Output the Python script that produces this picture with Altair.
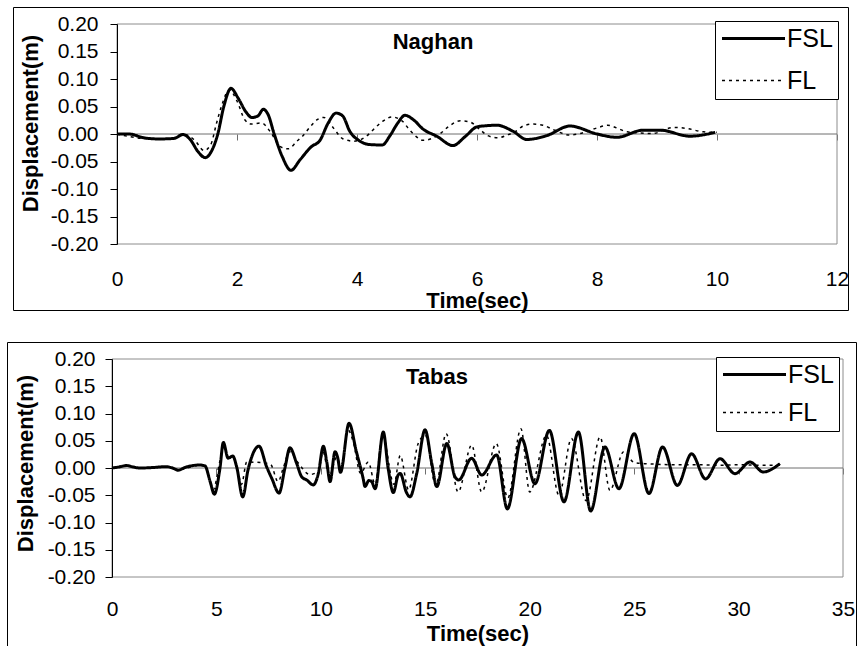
import altair as alt
import pandas as pd

FONT = "Liberation Sans"
W, H = 857, 646

series_names = ["FSL", "FL"]
y_ticks = [-0.20, -0.15, -0.10, -0.05, 0.00, 0.05, 0.10, 0.15, 0.20]
x_ticks_naghan = [0, 2, 4, 6, 8, 10, 12]
x_ticks_tabas = [0, 5, 10, 15, 20, 25, 30, 35]

# ---------------- Naghan ----------------
naghan_fsl_t = [0, 0.2, 0.45, 0.7, 0.95, 1.1, 1.22, 1.35, 1.47, 1.58, 1.68, 1.78, 1.9, 2.02, 2.15,
                2.25, 2.35, 2.44, 2.52, 2.62, 2.75, 2.9, 3.05, 3.24, 3.38, 3.52, 3.65, 3.76, 3.88, 4.05,
                4.2, 4.42, 4.55, 4.68, 4.8, 4.95, 5.1, 5.33, 5.6, 5.8, 6.0, 6.15, 6.33, 6.6, 6.83,
                7.16, 7.55, 8.0, 8.33, 8.77, 9.05, 9.55, 9.97]
naghan_fsl_d = [0, 0, -0.007, -0.009, -0.008, -0.001, -0.01, -0.032, -0.043, -0.03, 0, 0.05, 0.083, 0.065, 0.04,
                0.03, 0.033, 0.045, 0.035, 0, -0.04, -0.066, -0.047, -0.023, -0.012, 0.02, 0.038, 0.033, 0.005, -0.013,
                -0.019, -0.02, -0.003, 0.02, 0.034, 0.025, 0.009, -0.004, -0.021, -0.005, 0.013, 0.015, 0.016, 0.005, -0.01,
                -0.003, 0.0145, 0, -0.006, 0.007, 0.007, -0.004, 0.003]
naghan_fl_t = [0, 0.45, 0.9, 1.1, 1.3, 1.45, 1.56, 1.66, 1.74, 1.87, 2.0, 2.13, 2.24, 2.41, 2.55,
               2.72, 2.85, 3.0, 3.1, 3.22, 3.35, 3.45, 3.6, 3.77, 3.95, 4.18, 4.3, 4.44, 4.58, 4.75,
               4.85, 4.97, 5.1, 5.25, 5.38, 5.52, 5.72, 5.88, 6.05, 6.18, 6.35, 6.5, 6.65, 6.77, 6.93,
               7.1, 7.27, 7.55, 7.72, 8.0, 8.18, 8.33, 8.5, 8.93, 9.27, 9.5, 9.77, 10.0]
naghan_fl_d = [0, -0.008, -0.009, 0, -0.012, -0.03, -0.02, 0.02, 0.05, 0.08, 0.06, 0.026, 0.018, 0.02, 0.005,
               -0.023, -0.027, -0.013, -0.003, 0.013, 0.027, 0.03, 0.012, -0.009, -0.013, -0.002, 0.011, 0.024, 0.031, 0.024,
               0.011, -0.003, -0.0115, -0.008, 0, 0.013, 0.024, 0.022, 0.008, -0.003, -0.007, -0.002, 0.005, 0.0145, 0.018,
               0.016, 0.008, -0.002, 0.001, 0.011, 0.016, 0.011, 0.004, 0.001, 0.012, 0.01, 0.004, 0.003]

# ---------------- Tabas ----------------
tabas_fsl_t = [0, 0.35, 0.7, 1.0, 1.34, 2.0, 2.6, 2.9, 3.17, 3.5, 4.2, 4.45, 4.7, 4.9, 5.17,
               5.33, 5.56, 5.78, 5.97, 6.26, 6.51, 7.04, 7.4, 7.65, 8.0, 8.28, 8.52, 8.84, 9.08, 9.32,
               9.64, 9.88, 10.12, 10.28, 10.44, 10.68, 10.8, 10.94, 11.35, 11.7, 12.03, 12.11, 12.3, 12.43, 12.6,
               12.99, 13.22, 13.47, 13.7, 13.8, 14.1, 14.27, 14.59, 14.99, 15.31, 15.55, 16.03, 16.42, 16.6, 17.22,
               17.7, 18.42, 18.93, 19.61, 20.25, 20.94, 21.64, 22.33, 22.92, 23.6, 24.27, 25.0, 25.71, 26.36, 27.07,
               27.75, 28.42, 29.11, 29.83, 30.55, 31.18, 31.98]
tabas_fsl_d = [0, 0.002, 0.0045, 0.002, 0, 0.001, 0.0025, 0, -0.004, 0.001, 0.0055, 0.004, -0.025, -0.048, 0,
               0.047, 0.018, 0.022, 0.002, -0.053, -0.004, 0.04, 0.0025, -0.019, -0.046, 0, 0.037, 0.0086, -0.016, -0.022,
               -0.031, -0.01, 0.04, 0.012, -0.025, 0.03, 0.02, -0.008, 0.082, 0.03, -0.02, -0.034, -0.023, -0.025, -0.038,
               0.066, 0, -0.045, -0.013, -0.01, -0.045, -0.053, -0.01, 0.07, 0.0085, -0.034, 0.045, -0.016, -0.022, 0.018,
               -0.013, 0.024, -0.075, 0.054, -0.029, 0.069, -0.062, 0.066, -0.079, 0.0385, -0.038, 0.063, -0.047, 0.0385, -0.032,
               0.026, -0.02, 0.017, -0.0104, 0.011, -0.0073, 0.008]
tabas_fl_t = [0, 0.7, 1.34, 2.6, 3.17, 4.2, 4.45, 4.85, 5.15, 5.35, 5.6, 5.8, 6.0, 6.2, 6.45,
              7.1, 7.6, 7.95, 8.2, 8.5, 8.9, 9.48, 9.9, 10.1, 10.4, 10.76, 11.0, 11.3, 11.55, 11.9,
              12.27, 12.6, 12.95, 13.5, 13.8, 14.2, 14.66, 15.0, 15.5, 16.0, 16.57, 17.22, 17.7, 18.4, 18.95,
              19.58, 20.0, 20.8, 21.4, 22.0, 22.7, 23.37, 23.84, 24.5, 25.0, 25.5, 26.0, 27.0, 28.0, 29.0,
              30.0, 31.0, 32.0]
tabas_fl_d = [0, 0.004, 0, 0.0025, -0.003, 0.005, 0.003, -0.04, 0.01, 0.04, 0.018, 0.02, 0, -0.03, 0.011,
              0.01, 0.006, -0.025, 0, 0.03, 0.01, -0.012, -0.005, 0.03, -0.015, 0.02, 0, 0.07, 0.048, -0.01,
              0.011, -0.03, 0.06, -0.03, 0.023, -0.04, 0.045, 0.06, -0.032, 0.063, -0.044, 0.042, -0.044, 0.045, -0.055,
              0.072, -0.044, 0.06, -0.05, 0.054, -0.06, 0.057, -0.041, 0.03, 0.01, 0.008, 0.007, 0.006, 0.006, 0.005,
              0.006, 0.005, 0.005]

# tick labels with a plain hyphen-minus, as in the original
Y_LABEL_EXPR = "replace(format(datum.value, '.2f'), '\u2212', '-')"


def legend_for(legend_xy, row_pad):
    return alt.Legend(
        orient="none", legendX=legend_xy[0], legendY=legend_xy[1], title=None,
        strokeColor="black", fillColor="white", padding=5, labelFontSize=25,
        labelFont=FONT, labelColor="black", symbolType="M-1,0H5", symbolSize=441,
        symbolStrokeColor="black", labelOffset=42, rowPadding=row_pad, cornerRadius=0)


def panel(name, fsl_t, fsl_d, fl_t, fl_d, xmax, xticks, plot, frame, title_xy,
          legend_xy, row_pad, ytitle_xy, ylab_pad, xlab_pad):
    L, T, R, B = plot
    zero_px = (T + B) / 2.0
    xs = alt.Scale(domain=[0, xmax], range=[L, R], nice=False, zero=False)
    ys = alt.Scale(domain=[-0.2, 0.2], range=[B, T], nice=False, zero=False)
    df = pd.DataFrame({
        "t": fsl_t + fl_t,
        "d": fsl_d + fl_d,
        "series": ["FSL"] * len(fsl_t) + ["FL"] * len(fl_t),
    })
    one = pd.DataFrame({"a": [0]})

    outer = alt.Chart(one).mark_rect(fillOpacity=0, stroke="black", strokeWidth=1).encode(
        x=alt.value(frame[0]), x2=alt.value(frame[2]),
        y=alt.value(frame[1]), y2=alt.value(frame[3]))
    border = alt.Chart(one).mark_rect(fillOpacity=0, stroke="#8c8c8c", strokeWidth=1).encode(
        x=alt.value(L), x2=alt.value(R), y=alt.value(T), y2=alt.value(B))
    zero = alt.Chart(pd.DataFrame({"t0": [0], "t1": [xmax], "z": [0.0]})).mark_rule(
        color="#6e6e6e", strokeWidth=1).encode(
        x=alt.X("t0:Q", scale=xs, axis=alt.Axis(
            orient="bottom", offset=zero_px - H, labels=False, title=None, domain=False,
            ticks=True, tickSize=6, tickColor="#6e6e6e", values=xticks, grid=False)),
        x2="t1:Q",
        y=alt.Y("z:Q", scale=ys, axis=None))
    title = alt.Chart(one).mark_text(
        text=name, font=FONT, fontSize=22, fontWeight="bold", color="black",
        align="center", baseline="middle").encode(
        x=alt.value(title_xy[0]), y=alt.value(title_xy[1]))
    lines = alt.Chart(df).mark_line(color="black", interpolate="monotone").encode(
        x=alt.X("t:Q", scale=xs, axis=alt.Axis(
            orient="bottom", offset=B - H, values=xticks, labelFontSize=21, labelFont=FONT,
            labelColor="black", ticks=False, tickSize=0, domain=False, grid=False,
            labelPadding=xlab_pad, labelFlush=False, labelOverlap=False,
            title="Time(sec)", titleFont=FONT, titleFontSize=22, titleFontWeight="bold",
            titleColor="black", titleX=(L + R) / 2.0, titleY=56, titleAlign="center",
            titleBaseline="middle")),
        y=alt.Y("d:Q", scale=ys, axis=alt.Axis(
            orient="left", offset=-L, values=y_ticks, labelExpr=Y_LABEL_EXPR, labelFontSize=21,
            labelFont=FONT, labelColor="black", tickSize=7, tickColor="black",
            domainColor="black", grid=False, labelPadding=ylab_pad, labelFlush=False,
            labelOverlap=False, zindex=1,
            title="Displacement(m)", titleFont=FONT, titleFontSize=22, titleFontWeight="bold",
            titleColor="black", titleAngle=270, titleX=ytitle_xy[0] - L, titleY=ytitle_xy[1],
            titleAlign="center", titleBaseline="middle")),
        strokeDash=alt.StrokeDash("series:N", scale=alt.Scale(
            domain=series_names, range=[[1, 0], [3, 4]]), legend=legend_for(legend_xy, row_pad)),
        strokeWidth=alt.StrokeWidth("series:N", scale=alt.Scale(
            type="point", domain=series_names, range=[3, 1.5], padding=0),
            legend=legend_for(legend_xy, row_pad)),
    )
    return [outer, border, zero, lines, title]


top_layers = panel("Naghan", naghan_fsl_t, naghan_fsl_d, naghan_fl_t, naghan_fl_d, 12,
                   x_ticks_naghan, plot=(117, 24, 837, 244), frame=(13.5, 7.5, 848.5, 310.5),
                   title_xy=(433, 42), legend_xy=(715, 21), row_pad=16, ytitle_xy=(30, 123),
                   ylab_pad=12, xlab_pad=24)
bot_layers = panel("Tabas", tabas_fsl_t, tabas_fsl_d, tabas_fl_t, tabas_fl_d, 35,
                   x_ticks_tabas, plot=(112, 359, 843, 577), frame=(7.5, 342.5, 856.5, 660),
                   title_xy=(437, 377), legend_xy=(716, 357), row_pad=12, ytitle_xy=(25, 463),
                   ylab_pad=10, xlab_pad=21)

chart = alt.layer(*(top_layers + bot_layers)).resolve_scale(
    x="independent", y="independent", strokeDash="independent", strokeWidth="independent"
).properties(
    width=W, height=H, padding=0, background="white",
    autosize=alt.AutoSizeParams(type="none"),
).configure_view(strokeWidth=0)

chart.save("out.html", embed_options={"renderer": "svg", "actions": False})
